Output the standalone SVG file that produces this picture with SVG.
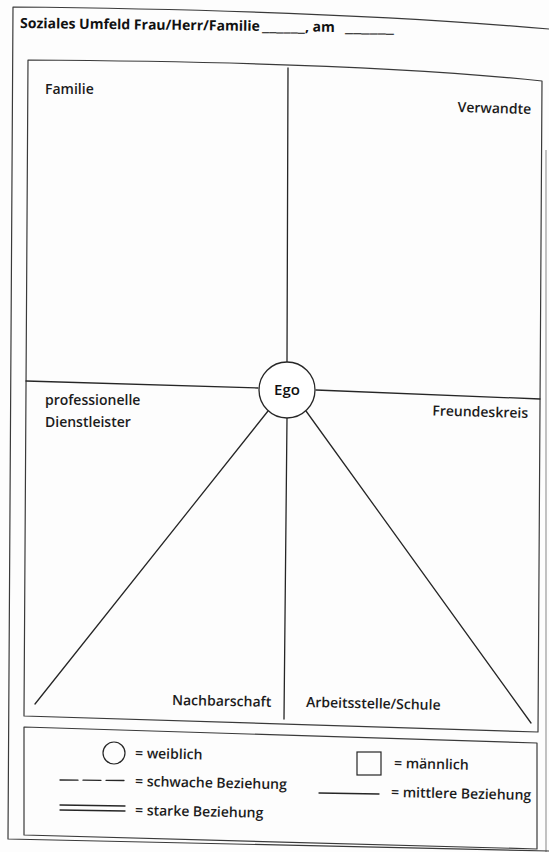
<svg xmlns="http://www.w3.org/2000/svg" width="549" height="852" viewBox="0 0 549 852">
  <style>
    .frame { fill: none; stroke: #3a3a3a; stroke-width: 1.2; stroke-linejoin: round; }
    .line { fill: none; stroke: #262626; stroke-width: 1.3; stroke-linecap: round; }
    .lbl { font-family: "Open Sans", "Liberation Sans", sans-serif; font-size: 14px; font-weight: 600; fill: #1c1c1c; }
    .title { font-family: "Open Sans", "Liberation Sans", sans-serif; font-size: 14px; font-weight: 700; fill: #111; }
    .ego { font-family: "Open Sans", "Liberation Sans", sans-serif; font-size: 15px; font-weight: 600; fill: #111; }
  </style>
  <rect width="549" height="852" fill="#fdfdfd"/>

  <!-- sheet border -->
  <g id="sheet">
    <path class="frame" d="M549,29 Q 330,10 13,7 L 8,839 L 549,851"/>
    <path class="frame" stroke-opacity="0.5" d="M546,150 L546,852"/>
  </g>

  <!-- heading with two blanks to fill in -->
  <g id="title">
    <text class="title" y="28" transform="rotate(0.7 20 28)"><tspan x="20">Soziales Umfeld Frau/Herr/Familie</tspan><tspan x="262" textLength="43" lengthAdjust="spacingAndGlyphs">______</tspan><tspan>, am</tspan><tspan x="345" textLength="49" lengthAdjust="spacingAndGlyphs">______</tspan></text>
  </g>

  <!-- main field with sectors -->
  <g id="field">
    <path class="frame" d="M28,60 C 200,61 400,66 542,81 L 538,732 L 24,716 Z"/>
  </g>

  <g id="connectors">
    <path class="line" d="M288,68 L287,362"/>
    <path class="line" d="M287,418 L284,719"/>
    <path class="line" d="M26,381 L258,388"/>
    <path class="line" d="M316,390 L540,399"/>
    <path class="line" d="M268,411 L35,704"/>
    <path class="line" d="M306,411 L531,723"/>
  </g>

  <g id="ego">
    <circle cx="287" cy="390" r="28" fill="#fff" stroke="#262626" stroke-width="1.3"/>
    <text class="ego" x="287" y="395" text-anchor="middle">Ego</text>
  </g>

  <g id="familie"><text class="lbl" x="45" y="94">Familie</text></g>
  <g id="verwandte"><text class="lbl" x="531" y="114" text-anchor="end" transform="rotate(1.5 531 114)">Verwandte</text></g>
  <g id="dienstleister">
    <text class="lbl" x="45" y="405">professionelle</text>
    <text class="lbl" x="45" y="427">Dienstleister</text>
  </g>
  <g id="freundeskreis"><text class="lbl" x="528" y="418" text-anchor="end" transform="rotate(1.5 528 418)">Freundeskreis</text></g>
  <g id="nachbarschaft"><text class="lbl" x="172" y="705" transform="rotate(1 172 705)">Nachbarschaft</text></g>
  <g id="arbeitsstelle"><text class="lbl" x="306" y="707" transform="rotate(1.2 306 707)">Arbeitsstelle/Schule</text></g>

  <!-- key -->
  <g id="legend">
    <path class="frame" d="M24,727 L537,743 L537,849 L24,835 Z"/>
    <circle cx="114" cy="753" r="11" fill="none" stroke="#262626" stroke-width="1.2"/>
    <text class="lbl" x="135" y="758" transform="rotate(1.2 135 758)">= weiblich</text>
    <line class="line" x1="60" y1="780" x2="125" y2="780.5" stroke-dasharray="18 5" stroke-linecap="butt"/>
    <text class="lbl" x="135" y="786" transform="rotate(1.2 135 786)">= schwache Beziehung</text>
    <line class="line" x1="60" y1="805" x2="125" y2="806"/>
    <line class="line" x1="60" y1="810" x2="125" y2="811"/>
    <text class="lbl" x="135" y="815" transform="rotate(1.2 135 815)">= starke Beziehung</text>
    <rect x="357" y="752" width="24" height="23" fill="none" stroke="#262626" stroke-width="1.2"/>
    <text class="lbl" x="394" y="768" transform="rotate(1.2 394 768)">= männlich</text>
    <line class="line" x1="319" y1="793" x2="379" y2="794"/>
    <text class="lbl" x="391" y="797" transform="rotate(1.2 391 797)">= mittlere Beziehung</text>
  </g>
</svg>
